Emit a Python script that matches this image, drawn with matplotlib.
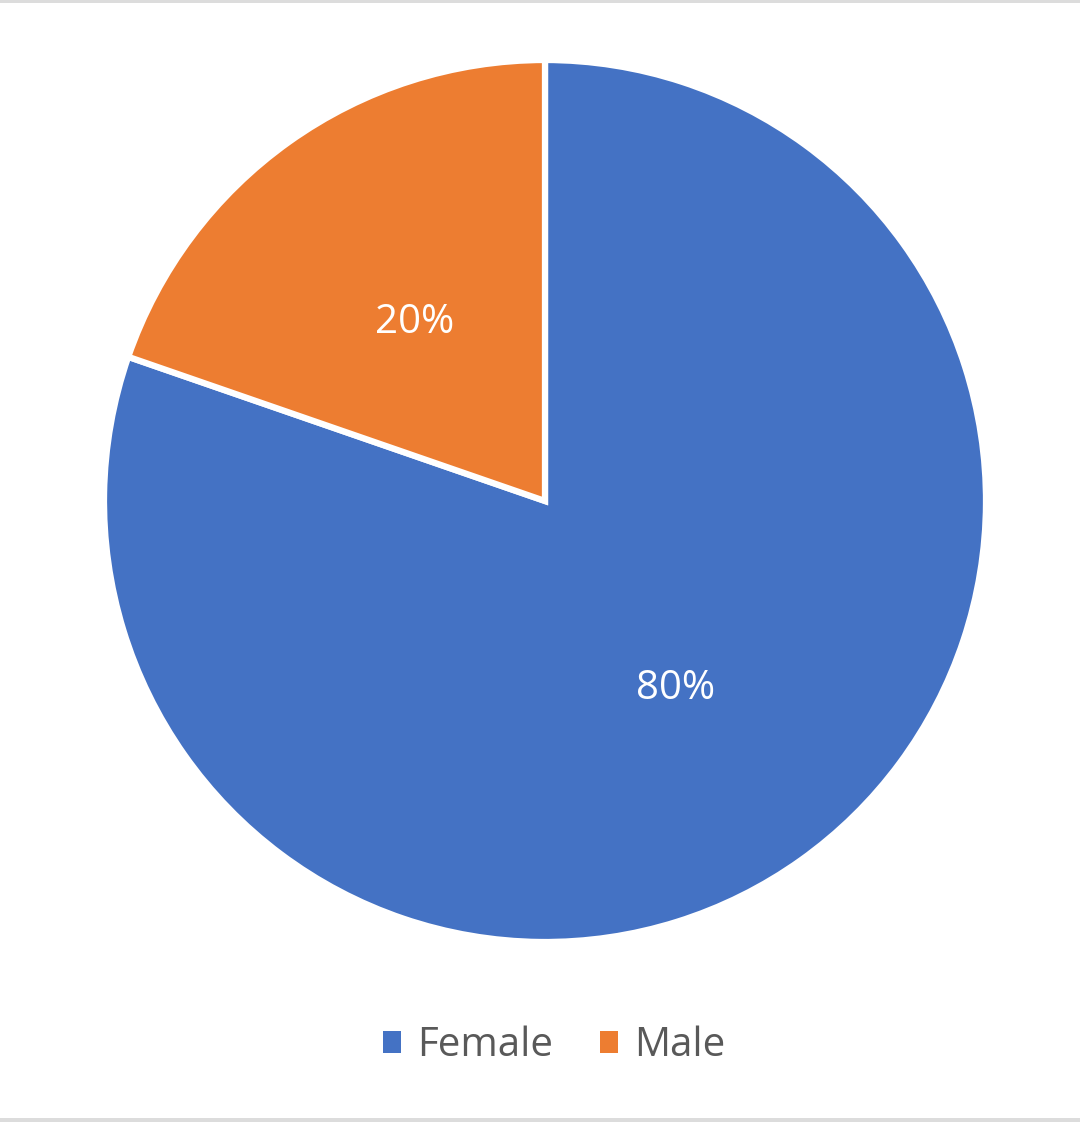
import matplotlib
matplotlib.use("Agg")
import matplotlib.pyplot as plt
from matplotlib.patches import Rectangle

categories = ["Female", "Male"]
shares = [80.3, 19.7]
labels_pct = ["80%", "20%"]
colors = ["#4472C4", "#ED7D31"]

W, H = 1080, 1122
fig = plt.figure(figsize=(W / 100, H / 100), dpi=100)
fig.patch.set_facecolor("white")

# light grey frame bands at top and bottom
fig.patches.append(Rectangle((0, 1 - 3 / H), 1, 3 / H, transform=fig.transFigure,
                             facecolor="#DCDCDC", edgecolor="none"))
fig.patches.append(Rectangle((0, 0), 1, 4 / H, transform=fig.transFigure,
                             facecolor="#DCDCDC", edgecolor="none"))

cx, cy, r = 545, H - 501, 441
ax = fig.add_axes([(cx - r) / W, (cy - r) / H, 2 * r / W, 2 * r / H])
wedges, texts = ax.pie(
    shares, colors=colors, startangle=90, counterclock=False,
    labels=labels_pct, labeldistance=0.51,
    wedgeprops=dict(edgecolor="white", linewidth=4.5),
    textprops=dict(color="white", fontsize=29, family="Open Sans",
                   ha="center", va="center_baseline"),
)
ax.set_xlim(-1, 1)
ax.set_ylim(-1, 1)
ax.set_aspect("equal")
ax.axis("off")

leg = fig.legend(wedges, categories, loc="center", bbox_to_anchor=(0.513, 1 - 1046 / H),
                 ncol=2, frameon=False, prop=dict(family="Open Sans", size=29),
                 handlelength=0.45, handleheight=0.45, handletextpad=0.4, columnspacing=1.15)
for t in leg.get_texts():
    t.set_color("#595959")
for h in leg.legend_handles:
    h.set_edgecolor("none")

fig.savefig("out.png", dpi=100, facecolor="white")
